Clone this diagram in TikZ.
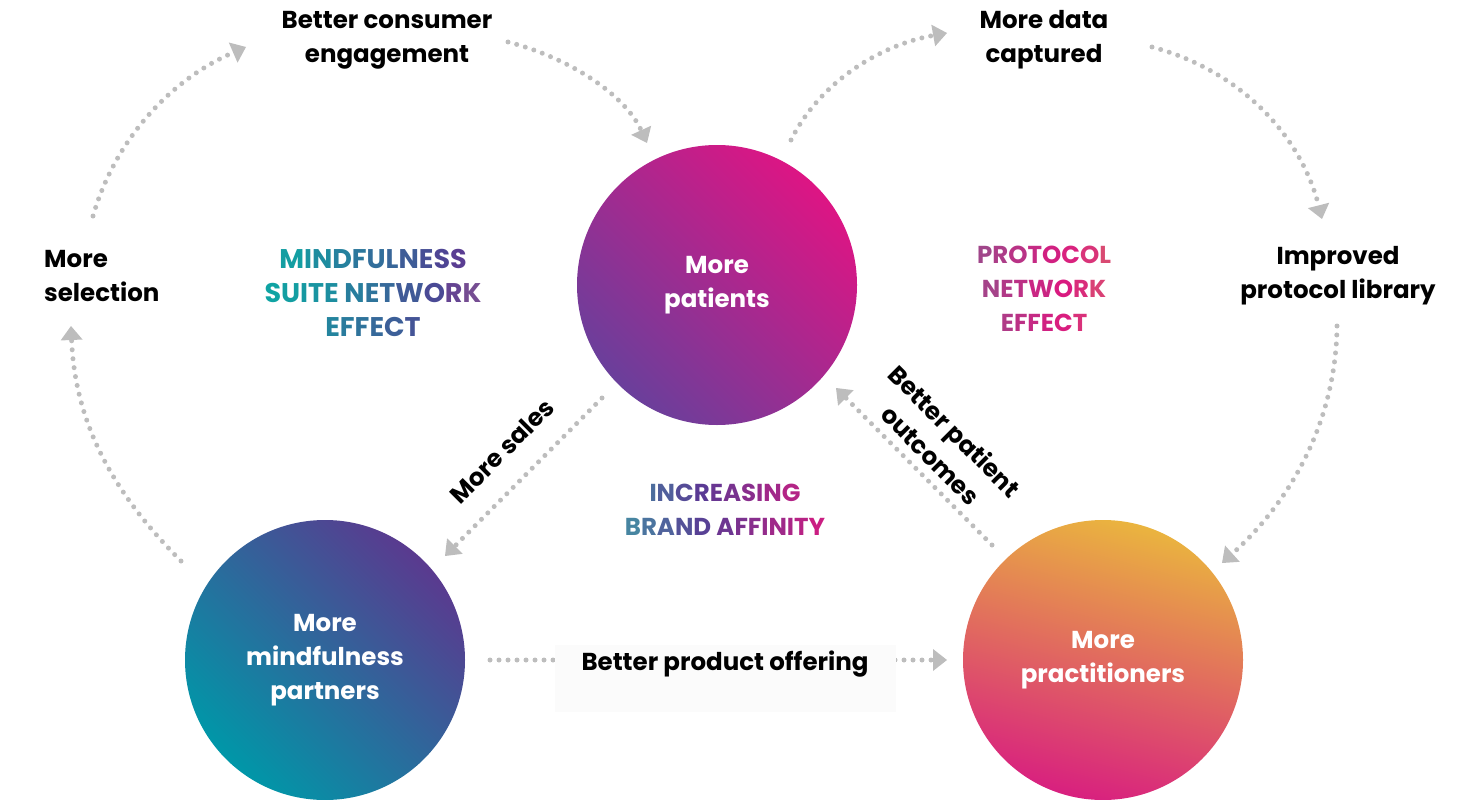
\documentclass[tikz,border=0pt]{standalone}
\usepackage{fontspec}
\setmainfont{Poppins}
\usetikzlibrary{arrows.meta}
\definecolor{dotc}{HTML}{BDBDBD}
\definecolor{pmag}{HTML}{DD1584}
\definecolor{ppur}{HTML}{6A3F9B}
\definecolor{mpur}{HTML}{5A3A8F}
\definecolor{mteal}{HTML}{0097A8}
\definecolor{porange}{HTML}{EAB43F}
\definecolor{pmagb}{HTML}{D8207F}
\definecolor{gteal}{HTML}{0FA3A3}
\definecolor{gpurp}{HTML}{553A92}
\definecolor{gmauve}{HTML}{8A5A92}
\definecolor{gmv}{HTML}{9A4B8B}
\definecolor{gmag}{HTML}{D91A80}
\definecolor{gsal}{HTML}{D9566F}
\definecolor{gtb}{HTML}{458DA3}
\definecolor{gip}{HTML}{5A3A94}
\definecolor{boxc}{HTML}{FBFBFB}
\newcommand\cA[2]{\textcolor{gpurp!#1!gteal}{#2}}
\newcommand\cM[2]{\textcolor{gmauve!#1!gpurp}{#2}}
\newcommand\cB[2]{\textcolor{gmag!#1!gmv}{#2}}
\newcommand\cC[2]{\textcolor{gmag!#1!gsal}{#2}}
\newcommand\cD[2]{\textcolor{gip!#1!gtb}{#2}}
\newcommand\cE[2]{\textcolor{gmag!#1!gip}{#2}}
\begin{document}
\begin{tikzpicture}[x=1pt,y=-1pt,
  font=\fontsize{24.5}{34}\selectfont\bfseries,
  conn/.style={draw=dotc, line width=5pt, line cap=round, dash pattern=on 0pt off 9pt,
    -{Triangle[length=14pt,width=22pt,line width=0pt,fill=dotc]}},
  bub/.style={circle, minimum size=280pt, inner sep=0pt, text=white, align=center},
  lbl/.style={align=center, text=black, inner sep=0pt},
  glbl/.style={align=center, inner sep=0pt}]
\useasboundingbox (0,0) rectangle (1462,800);

% circles
\node[bub, top color=pmag, bottom color=ppur, shading angle=-45] (pat) at (717,285) {More\\patients};
\node[bub, top color=mpur, bottom color=mteal, shading angle=-45] (par) at (325,660) {More\\mindfulness\\partners};
\node[bub, top color=porange, bottom color=pmagb, shading angle=-15] (prac) at (1103,660) {More\\practitioners};

% text labels
\node[lbl] (eng) at (387,40) {Better consumer\\engagement};
\node[lbl] (data) at (1044,40) {More data\\captured};
\node[lbl, align=left, anchor=west] (sel) at (44,276) {More\\selection};
\node[lbl] (impr) at (1338,276) {Improved\\protocol library};
\node[lbl, rotate=45] (sales) at (502,451) {More sales};
\node[lbl, rotate=-45] (outc) at (943,443) {Better patient\\outcomes};

% gradient labels
\node[glbl, font=\fontsize{27}{34}\selectfont\bfseries] (mind) at (373,293) {\cA{5}{M}\cA{15}{I}\cA{22}{N}\cA{32}{D}\cA{42}{F}\cA{50}{U}\cA{58}{L}\cA{68}{N}\cA{80}{E}\cA{90}{S}\cM{10}{S}\\
\cA{0}{S}\cA{5}{U}\cA{10}{I}\cA{14}{T}\cA{20}{E} \cA{35}{N}\cA{45}{E}\cA{55}{T}\cA{70}{W}\cA{85}{O}\cM{30}{R}\cM{60}{K}\\
\cA{30}{E}\cA{38}{F}\cA{46}{F}\cA{55}{E}\cA{65}{C}\cA{75}{T}};
\node[glbl] (prot) at (1044,289) {\cB{10}{P}\cB{28}{R}\cB{49}{O}\cB{68}{T}\cB{88}{O}\cC{87}{C}\cC{56}{O}\cC{20}{L}\\
\cB{17}{N}\cB{37}{E}\cB{54}{T}\cB{76}{W}\cB{100}{O}\cC{69}{R}\cC{36}{K}\\
\cB{35}{E}\cB{52}{F}\cB{68}{F}\cB{85}{E}\cC{93}{C}\cC{62}{T}};
\node[glbl] (brand) at (725,510) {\cD{39}{I}\cD{55}{N}\cD{78}{C}\cD{100}{R}\cE{12}{E}\cE{24}{A}\cE{37}{S}\cE{46}{I}\cE{56}{N}\cE{70}{G}\\
\cD{10}{B}\cD{30}{R}\cD{50}{A}\cD{72}{N}\cD{92}{D} \cE{14}{A}\cE{26}{F}\cE{36}{F}\cE{45}{I}\cE{54}{N}\cE{63}{I}\cE{73}{T}\cE{88}{Y}};

% connector end points
\coordinate (a1) at (93,216);   \coordinate (b1) at (246,47);
\coordinate (a2) at (508,42);   \coordinate (b2) at (647,143);
\coordinate (a3) at (791,140);  \coordinate (b3) at (947,33);
\coordinate (a4) at (1152,47);  \coordinate (b4) at (1322,219);
\coordinate (a5) at (1337,326); \coordinate (b5) at (1222,563);
\coordinate (a6) at (992,545);  \coordinate (b6) at (836,388);
\coordinate (a7) at (602,398);  \coordinate (b7) at (445,556);
\coordinate (a8) at (490,660);  \coordinate (b8) at (947,660);
\coordinate (a9) at (181,561);  \coordinate (b9) at (71,326);

\draw[conn] (a1) .. controls (115,140) and (170,80) .. (b1);
\draw[conn] (a2) .. controls (570,58) and (625,95) .. (b2);
\draw[conn] (a3) .. controls (820,82) and (880,45) .. (b3);
\draw[conn] (a4) .. controls (1245,72) and (1302,140) .. (b4);
\draw[conn] (a5) .. controls (1336,420) and (1292,500) .. (b5);
\draw[conn] (a6) -- (b6);
\draw[conn] (a7) -- (b7);
\draw[conn] (a8) -- (b8);
\draw[conn] (a9) .. controls (110,490) and (75,420) .. (b9);

% box behind product offering label
\fill[boxc] (555,645) rectangle (896,712);
\node[lbl] (offer) at (725,664) {Better product offering};
\end{tikzpicture}
\end{document}
